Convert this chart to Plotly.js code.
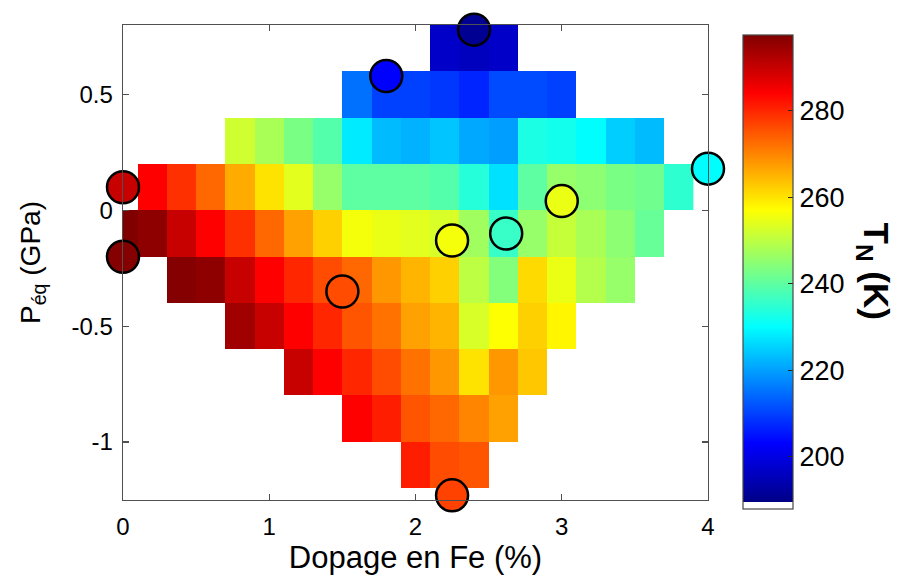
<!DOCTYPE html>
<html>
<head>
<meta charset="utf-8">
<script src="https://cdn.plot.ly/plotly-3.0.1.min.js"></script>
<style>html,body{margin:0;padding:0;background:#fff;}#chart{width:897px;height:575px;}</style>
</head>
<body>
<div id="chart"></div>
<script>
// Grid cell centres
var dopage = [0, 0.2, 0.4, 0.6, 0.8, 1.0, 1.2, 1.4, 1.6, 1.8, 2.0, 2.2, 2.4, 2.6, 2.8, 3.0, 3.2, 3.4, 3.6, 3.8];
var pression = [0.7, 0.5, 0.3, 0.1, -0.1, -0.3, -0.5, -0.7, -0.9, -1.1];
var N = null;
// T_N (K) per cell, rows follow "pression", columns follow "dopage"
var tnRow07  = [N,N,N,N,N,N,N,N,N,N,N,197,196,197,N,N,N,N,N,N];
var tnRow05  = [N,N,N,N,N,N,N,N,215,210,210,209,207,211,211,210,N,N,N,N];
var tnRow03  = [N,N,N,N,252,248,243,239,228,223,222,224,221,220,233,232,230,225,223,N];
var tnRow01  = [N,284,279,273,266,260,254,246,240,240,240,239,234,227,240,246,245,243,242,235];
var tnRowM01 = [298,296,290,284,279,273,267,262,256,255,254,253,247,236,246,251,248,245,241,N];
var tnRowM03 = [N,N,297,296,290,284,280,276,273,268,265,262,250,244,261,255,249,246,N,N];
var tnRowM05 = [N,N,N,N,294,290,284,280,275,272,267,265,253,257,262,258,N,N,N,N];
var tnRowM07 = [N,N,N,N,N,N,290,284,280,276,272,268,260,268,263,N,N,N,N,N];
var tnRowM09 = [N,N,N,N,N,N,N,N,284,281,275,273,270,267,N,N,N,N,N,N];
var tnRowM11 = [N,N,N,N,N,N,N,N,N,N,281,276,275,N,N,N,N,N,N,N];

// Measured samples (circles)
var sampleX = [0, 0, 1.8, 2.4, 4.0, 3.0, 2.25, 2.62, 1.5, 2.25];
var sampleY = [0.1, -0.2, 0.58, 0.78, 0.18, 0.04, -0.13, -0.1, -0.35, -1.23];
var sampleT = [290, 297, 203, 191, 230, 255, 256, 236, 276, 277];

var xTicks = [0, 1, 2, 3, 4];
var xTickText = ["0", "1", "2", "3", "4"];
var yTicks = [-1, -0.5, 0, 0.5];
var yTickText = ["-1", "-0.5", "0", "0.5"];
var cbTicks = [200, 220, 240, 260, 280];

var cMin = 188.0, cMax = 297.5;
var w = 1/64;
function p(g){ return w + g*(1-w); }
var jetScale = [
  [0, 'rgb(255,255,255)'], [w, 'rgb(255,255,255)'],
  [w + 1e-6, 'rgb(0,0,135)'],
  [p(0.125), 'rgb(0,0,255)'],
  [p(0.375), 'rgb(0,255,255)'],
  [p(0.625), 'rgb(255,255,0)'],
  [p(0.875), 'rgb(255,0,0)'],
  [1, 'rgb(128,0,0)']
];

var z = [tnRow07, tnRow05, tnRow03, tnRow01, tnRowM01, tnRowM03, tnRowM05, tnRowM07, tnRowM09, tnRowM11];

var font = "Liberation Sans, Arial, sans-serif";

var heat = {
  type: 'heatmap', x: dopage, y: pression, z: z,
  colorscale: jetScale, zmin: cMin, zmax: cMax, zsmooth: false,
  hoverongaps: false,
  colorbar: {
    x: 1.059, xanchor: 'left', xpad: 0, ypad: 0,
    y: 0.4804, yanchor: 'middle',
    thickness: 50, thicknessmode: 'pixels',
    len: 474, lenmode: 'pixels',
    outlinewidth: 1.2, outlinecolor: 'rgb(70,70,70)', borderwidth: 0,
    tickmode: 'array', tickvals: cbTicks,
    ticks: 'inside', ticklen: 5, tickwidth: 1.2, tickcolor: 'rgb(40,40,40)',
    tickfont: {family: font, size: 27, color: '#000'},
    ticklabelstandoff: 2
  }
};

var pts = {
  type: 'scatter', mode: 'markers', x: sampleX, y: sampleY,
  cliponaxis: false, showlegend: false,
  marker: {
    size: 32, color: sampleT, colorscale: jetScale, cmin: cMin, cmax: cMax,
    showscale: false, line: {color: '#000', width: 2.5}
  }
};

var axisCommon = {
  showline: true, linecolor: 'rgb(80,80,80)', linewidth: 1.3, mirror: 'ticks',
  ticks: 'inside', ticklen: 6, tickwidth: 1.2, tickcolor: 'rgb(80,80,80)',
  showgrid: false, zeroline: false,
  tickfont: {family: font, size: 24, color: '#000'}
};

var layout = {
  width: 897, height: 575,
  margin: {l: 123, r: 189, t: 25, b: 75, pad: 0},
  paper_bgcolor: '#fff', plot_bgcolor: '#fff',
  showlegend: false,
  xaxis: Object.assign({}, axisCommon, {
    range: [0, 4], tickmode: 'array', tickvals: xTicks, ticktext: xTickText,
    ticklabelstandoff: 5,
    title: {text: 'Dopage en Fe (%)', font: {family: font, size: 31, color: '#000'}, standoff: 3}
  }),
  yaxis: Object.assign({}, axisCommon, {
    range: [-1.25, 0.8], tickmode: 'array', tickvals: yTicks, ticktext: yTickText,
    ticklabelstandoff: 4,
    title: {text: 'P<sub>éq</sub> (GPa)', font: {family: font, size: 28, color: '#000'}, standoff: 22}
  }),
  annotations: [{
    xref: 'paper', yref: 'paper', x: 1.283, y: 0.482,
    xanchor: 'center', yanchor: 'middle', showarrow: false, textangle: 90,
    text: '<b>T<sub>N</sub> (K)</b>',
    font: {family: font, size: 35, color: '#000'}
  }]
};

Plotly.newPlot('chart', [heat, pts], layout, {staticPlot: true, displayModeBar: false});
</script>
</body>
</html>
